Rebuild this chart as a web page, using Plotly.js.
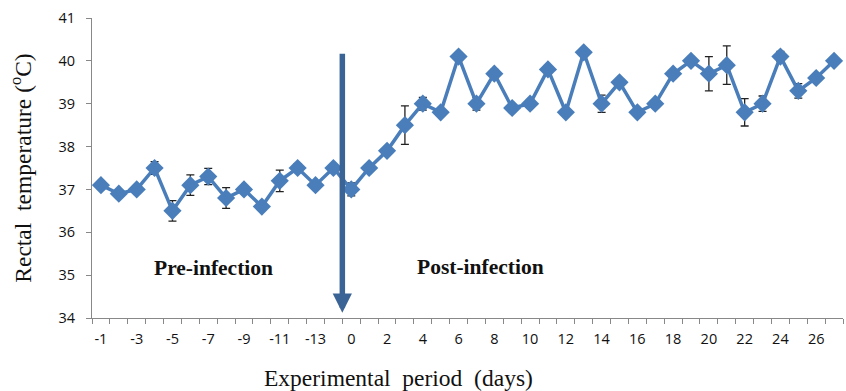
<!DOCTYPE html>
<html><head><meta charset="utf-8">
<script src="https://cdn.plot.ly/plotly-3.0.1.min.js"></script>
<style>html,body{margin:0;padding:0;background:#fff}#chart{width:846px;height:391px}</style>
</head><body><div id="chart"></div>
<script>
var days = ['-1','-2','-3','-4','-5','-6','-7','-8','-9','-10','-11','-12','-13','-14',
  '0','1','2','3','4','5','6','7','8','9','10','11','12','13','14','15','16','17','18','19','20','21','22','23','24','25','26','27'];
var temperature = [37.1,36.9,37.0,37.5,36.5,37.1,37.3,36.8,37.0,36.6,37.2,37.5,37.1,37.5,
  37.0,37.5,37.9,38.5,39.0,38.8,40.1,39.0,39.7,38.9,39.0,39.8,38.8,40.2,39.0,39.5,38.8,39.0,39.7,40.0,39.7,39.9,38.8,39.0,40.1,39.3,39.6,40.0];
var stdError = [0.04,0.03,0.05,0.15,0.24,0.24,0.19,0.24,0.03,0.03,0.25,0.1,0.03,0.03,
  0.15,0.03,0.03,0.45,0.15,0.03,0.03,0.15,0.1,0.03,0.03,0.03,0.03,0.03,0.2,0.03,0.03,0.03,0.03,0.03,0.4,0.45,0.32,0.18,0.12,0.17,0.03,0.03];
var tickLabels = days.map(function(d,i){ return (i%2===0) ? d : ' '; });

var trace = {
  x: days, y: temperature, type: 'scatter', mode: 'lines+markers',
  line: {color: '#4A7EBB', width: 3.5},
  marker: {symbol: 'diamond', size: 14, color: '#4A7EBB'},
  error_y: {type: 'data', array: stdError, visible: true, color: '#222', thickness: 1.3, width: 4},
  hoverinfo: 'x+y'
};

var serif = 'Liberation Serif, Times New Roman, serif';
var layout = {
  width: 846, height: 391,
  margin: {l: 92, r: 3, t: 18, b: 73},
  paper_bgcolor: '#fff', plot_bgcolor: '#fff',
  showlegend: false,
  xaxis: {
    type: 'category', categoryorder: 'array', categoryarray: days,
    range: [-0.5, 41.5], autorange: false,
    tickmode: 'array', tickvals: days, ticktext: tickLabels, tickangle: 0,
    tickson: 'boundaries', ticks: 'outside', ticklen: 5, tickcolor: '#888',
    ticklabelstandoff: 8,
    showline: true, linecolor: '#888', linewidth: 1, showgrid: false, zeroline: false,
    tickfont: {family: 'Open Sans, Liberation Sans, sans-serif', size: 14.5, color: '#111'},
    automargin: false
  },
  yaxis: {
    range: [34, 41], autorange: false, dtick: 1, ticks: 'outside', ticklen: 5, tickcolor: '#888',
    ticklabelstandoff: 8,
    showline: true, linecolor: '#888', linewidth: 1, showgrid: false, zeroline: false,
    tickfont: {family: 'Open Sans, Liberation Sans, sans-serif', size: 14.5, color: '#111'},
    title: {text: 'Rectal  temperature (<sup>o</sup>C)', font: {family: serif, size: 23.5, color: '#111'}, standoff: 20},
    automargin: false
  },
  annotations: [
    {x: 13.5, y: 34.12, xref: 'x', yref: 'y', axref: 'x', ayref: 'y', ax: 13.5, ay: 40.2,
     text: '', showarrow: true, arrowhead: 2, arrowsize: 0.7, arrowwidth: 5.5, arrowcolor: '#3B6496'},
    {x: 6.3, y: 35.17, xref: 'x', yref: 'y', text: '<b>Pre-infection</b>', showarrow: false,
     font: {family: serif, size: 21.5, color: '#111'}},
    {x: 21.2, y: 35.2, xref: 'x', yref: 'y', text: '<b>Post-infection</b>', showarrow: false,
     font: {family: serif, size: 21.5, color: '#111'}},
    {x: 0.408, y: 0, xref: 'paper', yref: 'paper', yshift: -60, xanchor: 'center', yanchor: 'middle',
     text: 'Experimental  period  (days)', showarrow: false,
     font: {family: serif, size: 23.5, color: '#111'}}
  ]
};
Plotly.newPlot('chart', [trace], layout, {displayModeBar: false, staticPlot: true});
</script></body></html>
